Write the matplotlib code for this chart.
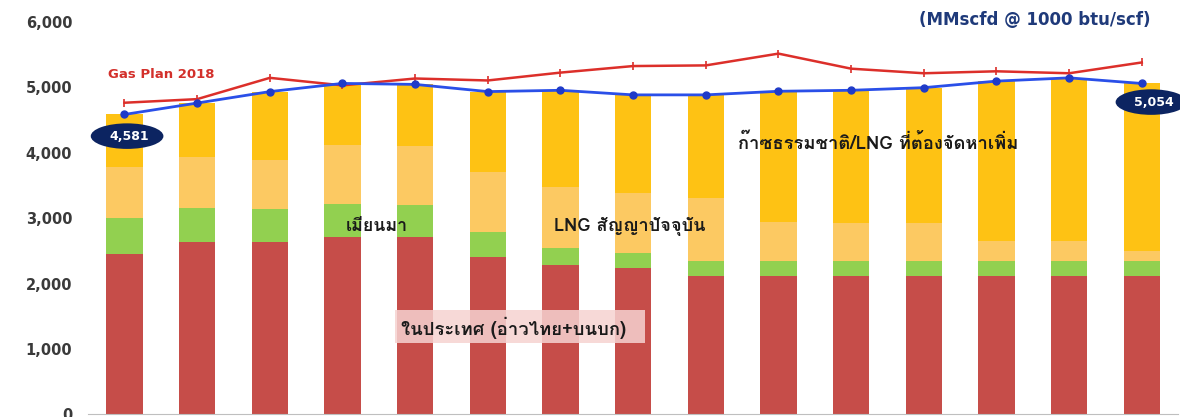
"""
ความต้องการก๊าซธรรมชาติและแหล่งจัดหา เทียบกับ Gas Plan 2018
"""
import numpy as np
import matplotlib
matplotlib.use("Agg")
import matplotlib.pyplot as plt
from matplotlib import font_manager
from matplotlib.ft2font import FT2Font
from matplotlib.patches import Ellipse, Rectangle


# ปริมาณก๊าซแยกตามแหล่ง (MMscfd) ปีละหนึ่งแท่ง
domestic = [2450, 2640, 2630, 2715, 2705, 2400, 2280, 2235, 2120, 2120, 2120, 2120, 2120, 2120, 2120]
myanmar = [550, 520, 510, 495, 495, 380, 260, 230, 225, 225, 225, 225, 225, 225, 225]
lng_contract = [780, 770, 745, 900, 895, 920, 930, 915, 955, 590, 575, 575, 300, 300, 155]
additional = [801, 825, 1045, 945, 945, 1230, 1480, 1500, 1580, 2000, 2030, 2070, 2445, 2495, 2554]

# ความต้องการก๊าซ (เส้นสีน้ำเงิน) และแผน Gas Plan 2018 (เส้นสีแดง)
demand = [4581, 4755, 4930, 5055, 5040, 4930, 4950, 4880, 4880, 4935, 4950, 4990, 5090, 5140, 5054]
gas_plan_2018 = [4760, 4815, 5140, 5025, 5130, 5100, 5220, 5320, 5330, 5510, 5280, 5210, 5240, 5210, 5375]

y_ticks = [0, 1000, 2000, 3000, 4000, 5000, 6000]


def find_thai_font():
    """หาฟอนต์ที่มีตัวอักษรไทยในเครื่อง (เลือกแบบคล้าย Tahoma ก่อน)"""
    found = set()
    for f in font_manager.fontManager.ttflist:
        try:
            if 0x0E01 in FT2Font(f.fname).get_charmap():
                found.add(f.name)
        except Exception:
            continue
    for name in ["Tahoma", "Waree", "Loma", "Noto Sans Thai", "Garuda", "Umpush", "Sarabun"]:
        if name in found:
            return name
    return sorted(found)[0] if found else None


thai = find_thai_font()
thai_families = ([thai] if thai else []) + ["DejaVu Sans"]
plt.rcParams["font.family"] = ["DejaVu Sans"]

x = np.arange(len(domestic))
width = 0.5

fig = plt.figure(figsize=(11.8, 4.17), dpi=100)
ax = fig.add_axes([0.0747, 0.006, 0.9237, 0.9424])

c_dom, c_mya, c_lng, c_add = "#C64D49", "#92D050", "#FCC962", "#FEC214"
bottom = np.zeros(len(x))
for vals, col in [(domestic, c_dom), (myanmar, c_mya), (lng_contract, c_lng), (additional, c_add)]:
    ax.bar(x, vals, width, bottom=bottom, color=col, linewidth=0, zorder=2)
    bottom += np.array(vals)

ax.plot(x, gas_plan_2018, color="#DC2F2A", lw=1.8, marker="|", ms=6, mew=1.2, zorder=3)
ax.plot(x, demand, color="#2A4FE8", lw=2, marker="o", ms=5, mfc="#1F3BC8", mec="#1F3BC8", zorder=4)

ax.set_xlim(-0.5, len(x) - 0.5)
ax.set_ylim(0, 6000)
ax.set_yticks(y_ticks)
ax.set_yticklabels([f"{v:,}" for v in y_ticks], fontweight="bold", fontsize=10.5, color="#3A3A3A")
ax.set_xticks([])
ax.tick_params(axis="y", length=0, pad=11.5)
for side in ["top", "right", "left"]:
    ax.spines[side].set_visible(False)
ax.spines["bottom"].set_color("#BFBFBF")

# ป้ายวงรีค่าแรกและค่าสุดท้าย
for xc, yc, w, val in [(0.036, 4250, 1.0, demand[0]), (14.13, 4770, 0.98, demand[-1])]:
    ax.add_patch(Ellipse((xc, yc), w, 390, fc="#0C2461", ec="none", zorder=5, clip_on=False))
    ax.text(xc + 0.03, yc, f"{val:,}", ha="center", va="center", color="white",
            fontsize=9, fontweight="bold", zorder=6)

ax.text(-0.228, 5185, "Gas Plan 2018", color="#D3302B", fontsize=9.5, fontweight="bold",
        ha="left", va="center", zorder=5)
fig.text(0.9746, 0.952, "(MMscfd @ 1000 btu/scf)", color="#1F3A7A", fontsize=12,
         fontweight="bold", ha="right", va="center")

# ชื่อแหล่งก๊าซ ปรับขนาดตัวอักษรให้ได้ความกว้างตามต้องการ (พิกเซล)
lab = dict(fontsize=12, fontweight="bold", color="#1A1A1A", ha="center", va="center",
           family=thai_families, zorder=6)
labels = [
    ax.text(3.47, 2878, "เมียนมา", **lab),
    ax.text(6.95, 2870, "LNG สัญญาปัจจุบัน", **lab),
    ax.text(10.37, 4145, "ก๊าซธรรมชาติ/LNG ที่ต้องจัดหาเพิ่ม", **lab),
    ax.text(5.35, 1320, "ในประเทศ (อ่าวไทย+บนบก)", **lab),
]
target_px = [62, 152, 280, 225]

fig.canvas.draw()
renderer = fig.canvas.get_renderer()
for t, px in zip(labels, target_px):
    w = t.get_window_extent(renderer).width
    t.set_fontsize(t.get_fontsize() * px / w)

# พื้นหลังสีชมพูโปร่งใสของป้าย "ในประเทศ"
ax.add_patch(Rectangle((3.72, 1092), 3.44, 503, fc="#F6D3D1", ec="none", alpha=0.85, zorder=5))

fig.savefig("out.png", dpi=100)
